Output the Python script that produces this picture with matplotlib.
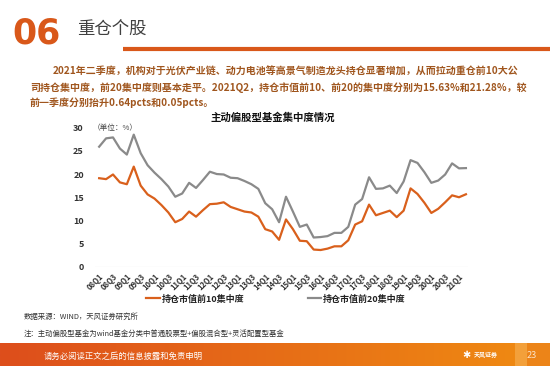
import matplotlib
matplotlib.use("Agg")
import matplotlib.pyplot as plt
import numpy as np
from matplotlib.lines import Line2D

plt.rcParams['font.family'] = ['Noto Sans CJK SC', 'DejaVu Sans']

# ---------------- data ----------------
quarters = [f"{y:02d}Q{q}" for y in range(8, 22) for q in range(1, 5)][:54]
top10 = [19.1, 18.9, 19.9, 18.2, 17.8, 21.6, 17.5, 15.6, 14.7, 13.3,
         11.7, 9.6, 10.3, 11.9, 10.8, 12.2, 13.5, 13.6, 13.9, 12.9,
         12.4, 11.9, 11.7, 10.8, 8.1, 7.6, 5.8, 10.2, 8.1, 5.6,
         5.5, 3.7, 3.6, 3.9, 4.4, 4.4, 5.7, 9.1, 9.8, 13.4,
         11.1, 11.6, 12.1, 10.7, 12.1, 16.9, 15.7, 13.8, 11.6, 12.5,
         13.9, 15.4, 14.99, 15.63]
top20 = [25.9, 27.7, 27.9, 25.5, 24.2, 28.5, 24.5, 21.9, 20.3, 18.9,
         17.3, 15.1, 15.8, 18.1, 17.0, 18.7, 20.5, 20.0, 19.9, 19.2,
         19.1, 18.5, 17.8, 16.8, 13.7, 12.4, 9.6, 15.1, 11.9, 8.6,
         9.1, 6.3, 6.4, 6.6, 7.3, 7.3, 8.6, 13.4, 14.6, 19.3,
         16.8, 16.9, 17.5, 15.9, 18.4, 23.0, 22.4, 20.4, 18.1, 18.6,
         19.9, 22.3, 21.23, 21.28]
series_names = ["持仓市值前10集中度", "持仓市值前20集中度"]
yticks = [0, 5, 10, 15, 20, 25, 30]

ORANGE = "#D9601C"
GRAY = "#8A8A8A"
BROWN = "#A0561E"

W, H = 550, 366
fig = plt.figure(figsize=(W / 100, H / 100), dpi=100)
fig.patch.set_facecolor("white")


def fx(x):
    return x / W


def fy(y):
    return 1 - y / H


# ---------------- header ----------------
fig.text(fx(12), fy(34), "06", color="#D9581A", fontsize=25, fontweight="heavy",
         family="DejaVu Sans", va="center", ha="left")
fig.text(fx(77), fy(30), "重仓个股", color="#404040", fontsize=12.5, va="center", ha="left")
fig.add_artist(Line2D([fx(123), fx(550)], [fy(49), fy(49)], color="#D9581A", lw=3,
                      transform=fig.transFigure, solid_capstyle="butt"))

para = ["2021年二季度，机构对于光伏产业链、动力电池等高景气制造龙头持仓显著增加，从而拉动重仓前10大公",
        "司持仓集中度，前20集中度则基本走平。2021Q2，持仓市值前10、前20的集中度分别为15.63%和21.28%，较",
        "前一季度分别抬升0.64pcts和0.05pcts。"]
fig.text(fx(53), fy(72), para[0], color=BROWN, fontsize=7.2, fontweight="bold", va="center", ha="left")
fig.text(fx(30), fy(88), para[1], color=BROWN, fontsize=7.2, fontweight="bold", va="center", ha="left")
fig.text(fx(30), fy(103), para[2], color=BROWN, fontsize=7.2, fontweight="bold", va="center", ha="left")

# ---------------- chart ----------------
fig.text(fx(273), fy(118), "主动偏股型基金集中度情况", color="#111111", fontsize=7.5,
         fontweight="bold", va="center", ha="center")

x0, x1 = 95, 468
ytop, ybot = 127.7, 266.7
ax = fig.add_axes([fx(x0), fy(ybot), (x1 - x0) / W, (ybot - ytop) / H])
idx = np.arange(len(quarters))
ax.plot(idx, top10, color=ORANGE, lw=1.6, label=series_names[0])
ax.plot(idx, top20, color=GRAY, lw=1.6, label=series_names[1])
ax.set_xlim(-0.6, 53.3)
ax.set_ylim(0, 30)
for s in ax.spines.values():
    s.set_visible(False)
ax.axhline(0, color="#D9D9D9", lw=0.8, zorder=0)
ax.set_yticks(yticks)
ax.set_yticklabels([str(v) for v in yticks], fontsize=6.5, fontweight="bold", color="#333333")
ax.set_xticks(idx[::2])
ax.set_xticklabels(quarters[::2], rotation=45, ha="right", rotation_mode="anchor",
                   fontsize=5.5, fontweight="bold", color="#333333")
ax.tick_params(axis="both", length=0)
ax.tick_params(axis="y", pad=8)
ax.tick_params(axis="x", pad=4)
ax.set_facecolor("none")
fig.text(fx(93), fy(128), "（单位：%）", color="#444444", fontsize=5.5, va="center", ha="left")

leg = fig.legend(handles=ax.get_lines(), labels=series_names, ncol=2, frameon=False,
                 loc="center", bbox_to_anchor=(fx(276), fy(299)),
                 prop={"size": 6.5, "weight": "bold"}, handlelength=1.5, handletextpad=0.2,
                 columnspacing=7.0)
for t in leg.get_texts():
    t.set_color("#222222")

# ---------------- notes ----------------
fig.text(fx(24), fy(317), "数据来源：WIND，天风证券研究所", color="#333333", fontsize=5.3,
         va="center", ha="left")
fig.text(fx(24), fy(334), "注：主动偏股型基金为wind基金分类中普通股票型+偏股混合型+灵活配置型基金",
         color="#333333", fontsize=5.3, va="center", ha="left")

# ---------------- footer ----------------
fax = fig.add_axes([0, 0, 1, (H - 343) / H])
fax.set_axis_off()
grad = np.linspace(0, 1, 256)
c0 = np.array([0xDD, 0x4E, 0x1C]) / 255
c1 = np.array([0xF0, 0x8C, 0x12]) / 255
img = (c0[None, :] * (1 - grad[:, None]) + c1[None, :] * grad[:, None])[None, :, :]
fax.imshow(img, aspect="auto", extent=[0, 1, 0, 1])
fax.add_patch(plt.Rectangle((515 / W, 0), 12 / W, 1, color="#F3A03A", lw=0))
fax.add_patch(plt.Rectangle((527 / W, 0), 23 / W, 1, color="#EC8418", lw=0))
fax.set_xlim(0, 1)
fax.set_ylim(0, 1)
fig.text(fx(44), fy(356), "请务必阅读正文之后的信息披露和免责申明", color="white", fontsize=6,
         va="center", ha="left")
fig.text(fx(466), fy(355), "✱", color="white", fontsize=7, va="center", ha="center",
         family="DejaVu Sans")
fig.text(fx(474), fy(354), "天风证券", color="white", fontsize=4.3, fontweight="bold",
         va="center", ha="left")
fig.text(fx(532), fy(356), "23", color="#FBE3C8", fontsize=6.5, va="center", ha="center")

fig.savefig("out.png", dpi=100, facecolor="white")
